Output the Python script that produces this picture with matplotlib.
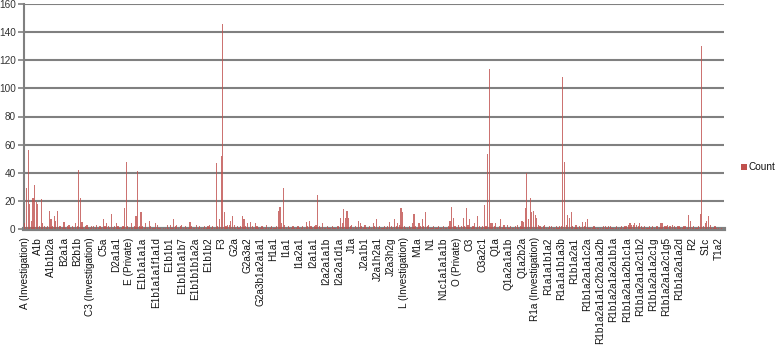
import numpy as np
import matplotlib
matplotlib.use('Agg')
import matplotlib.pyplot as plt
from matplotlib.patches import Rectangle

plt.rcParams['font.family'] = ['Liberation Sans', 'DejaVu Sans']

# labelled haplogroups (every 8th category carries a label)
tick_labels = ['A (Investigation)', 'A1b', 'A1b1b2a', 'B2a1a', 'B2b1b', 'C3 (Investigation)',
               'C5a', 'D2a1a1', 'E (Private)', 'E1b1a1a1a', 'E1b1a1a1f1a1d', 'E1b1b1',
               'E1b1b1a1b7', 'E1b1b1b1a2a', 'E1b1b2', 'F3', 'G2a', 'G2a3a2', 'G2a3b1a2a1a1',
               'H1a1', 'I1a1', 'I1a2a1', 'I2a1a1', 'I2a2a1a1b', 'I2a2a1d1a', 'J1a', 'J2a1b1',
               'J2a1h2a1', 'J2a3h2g', 'L (Investigation)', 'M1a', 'N1', 'N1c1a1a1a1b',
               'O (Private)', 'O3', 'O3a2c1', 'Q1a', 'Q1a2a1a1b', 'Q1a2b2a', 'R1a (Investigation)',
               'R1a1a1b1a2', 'R1a1a1b1a3b', 'R1b1a2a1', 'R1b1a2a1a1c2a', 'R1b1a2a1a1c2b2a1a2b',
               'R1b1a2a1a2a1b1a', 'R1b1a2a1a2b1c1a', 'R1b1a2a1a2c1b2', 'R1b1a2a1a2c1g',
               'R1b1a2a1a2c1g5', 'R1b1a2a1a2d', 'R2', 'S1c', 'T1a2']
label_step = 8
series_name = 'Count'

# counts per category, one row per labelled group
counts = [
    4, 29, 56, 18, 6, 22, 31, 19,
    18, 2, 21, 4, 2, 1, 2, 13,
    7, 2, 9, 6, 13, 2, 2, 1,
    5, 1, 2, 3, 1, 2, 1, 4,
    2, 42, 22, 5, 1, 2, 3, 1,
    1, 2, 2, 1, 3, 1, 2, 1,
    7, 2, 4, 2, 1, 11, 1, 2,
    4, 2, 1, 1, 2, 15, 48, 2,
    1, 4, 1, 2, 9, 41, 2, 12,
    2, 1, 4, 1, 6, 2, 1, 1,
    4, 3, 1, 1, 0, 1, 1, 3,
    1, 3, 1, 7, 2, 3, 1, 2,
    3, 1, 2, 1, 1, 5, 2, 1,
    1, 3, 1, 2, 1, 1, 2, 1,
    2, 3, 1, 2, 1, 47, 2, 7,
    52, 146, 12, 2, 3, 3, 6, 9,
    3, 1, 2, 1, 2, 9, 7, 2,
    4, 1, 5, 2, 1, 4, 2, 1,
    1, 2, 1, 1, 3, 1, 1, 2,
    1, 1, 2, 13, 16, 4, 29, 3,
    1, 2, 1, 1, 2, 1, 1, 2,
    1, 1, 2, 1, 5, 2, 6, 2,
    1, 2, 3, 24, 2, 1, 4, 1,
    1, 2, 1, 1, 2, 1, 1, 2,
    2, 8, 4, 14, 8, 13, 8, 2,
    3, 1, 2, 1, 6, 4, 2, 1,
    3, 1, 1, 2, 1, 4, 2, 7,
    1, 2, 1, 1, 2, 1, 2, 5,
    2, 1, 7, 2, 4, 3, 15, 12,
    2, 1, 1, 2, 1, 4, 11, 2,
    1, 4, 2, 7, 2, 12, 2, 3,
    1, 1, 2, 1, 1, 2, 1, 1,
    2, 1, 1, 2, 6, 16, 8, 2,
    1, 3, 1, 2, 8, 2, 15, 3,
    7, 1, 2, 4, 1, 9, 2, 1,
    2, 17, 2, 53, 114, 4, 4, 2,
    4, 1, 2, 7, 1, 3, 1, 3,
    1, 2, 1, 1, 2, 3, 1, 2,
    6, 5, 15, 40, 7, 22, 12, 13,
    10, 8, 3, 2, 1, 2, 3, 1,
    1, 2, 2, 1, 1, 2, 1, 2,
    2, 108, 48, 3, 10, 8, 12, 2,
    1, 3, 1, 2, 1, 5, 2, 5,
    7, 1, 1, 1, 2, 1, 1, 1,
    1, 1, 2, 2, 1, 2, 2, 1,
    1, 1, 2, 1, 1, 2, 1, 2,
    2, 3, 4, 3, 3, 4, 3, 2,
    4, 2, 1, 2, 1, 1, 2, 1,
    2, 1, 2, 2, 1, 4, 4, 2,
    2, 3, 2, 2, 3, 2, 1, 2,
    2, 1, 1, 2, 2, 1, 10, 6,
    1, 2, 1, 1, 2, 11, 130, 2,
    4, 6, 9, 3, 1, 1, 2, 1,
    1, 0, 1, 0,
]

bar_color = '#c0504d'
grid_color = '#808080'

fig = plt.figure(figsize=(7.77, 3.48), dpi=100)
ax = fig.add_axes([24 / 777, 1 - 229 / 348, 700 / 777, 225 / 348])

x = np.arange(len(counts))
ax.bar(x, counts, width=0.7, color=bar_color, alpha=0.8, linewidth=0, zorder=3)

ax.set_xlim(-0.5, len(counts) - 0.5)
ax.set_ylim(0, 160)
ax.set_yticks(np.arange(0, 161, 20))
ax.yaxis.grid(True, color=grid_color, linewidth=1.5, zorder=0)
ax.set_axisbelow(True)

ax.set_xticks(np.arange(0, len(tick_labels) * label_step, label_step))
ax.set_xticklabels(tick_labels, rotation=90, fontsize=7.2, color='#111111')
ax.tick_params(axis='x', length=0, pad=6)
ax.tick_params(axis='y', length=4, width=1.2, color=grid_color, labelsize=7.2,
               labelcolor='#333333', pad=2)

for side in ['top', 'right']:
    ax.spines[side].set_visible(False)
ax.spines['left'].set_color(grid_color)
ax.spines['left'].set_linewidth(1.5)
ax.spines['bottom'].set_color(grid_color)
ax.spines['bottom'].set_linewidth(3)

# legend: small square + label at the right edge
fig.patches.append(Rectangle((741 / 777, 1 - 170 / 348), 6 / 777, 6 / 348,
                             transform=fig.transFigure, facecolor=bar_color,
                             edgecolor='none'))
fig.text(748.5 / 777, 1 - 167 / 348, series_name, fontsize=7.2, color='#111111',
         va='center', ha='left')

fig.savefig('out.png', dpi=100)
